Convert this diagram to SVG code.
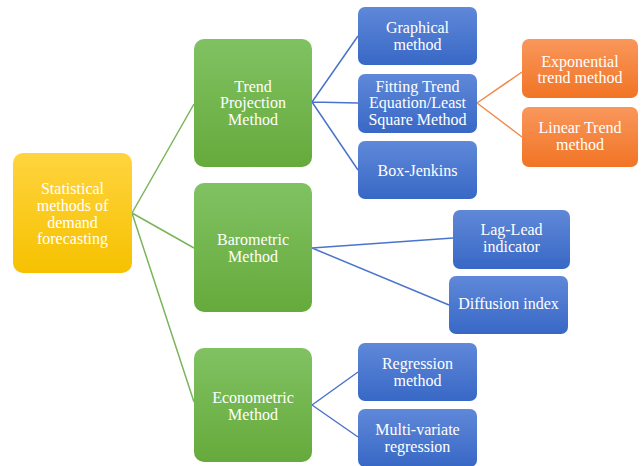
<svg xmlns="http://www.w3.org/2000/svg" width="642" height="466" viewBox="0 0 642 466">
<defs>
<linearGradient id="gy" x1="0" y1="0" x2="0" y2="1"><stop offset="0" stop-color="#FFD43F"/><stop offset="1" stop-color="#F6C100"/></linearGradient>
<linearGradient id="gg" x1="0" y1="0" x2="0" y2="1"><stop offset="0" stop-color="#80C262"/><stop offset="1" stop-color="#66AA3C"/></linearGradient>
<linearGradient id="gb" x1="0" y1="0" x2="0" y2="1"><stop offset="0" stop-color="#5F88D8"/><stop offset="1" stop-color="#3868C6"/></linearGradient>
<linearGradient id="go" x1="0" y1="0" x2="0" y2="1"><stop offset="0" stop-color="#F9975C"/><stop offset="1" stop-color="#F17424"/></linearGradient>
</defs>
<style>
text{font-family:"Liberation Serif","Times New Roman",serif;font-size:16px;fill:#fff;text-anchor:middle}
.y{fill:url(#gy)}.g{fill:url(#gg)}.b{fill:url(#gb)}.o{fill:url(#go)}
.cg{stroke:#79B55A;stroke-width:1.5;fill:none}
.cb{stroke:#4A74CC;stroke-width:1.5;fill:none}
.co{stroke:#F08A4B;stroke-width:1.5;fill:none}
</style>
<rect width="642" height="466" fill="#fff"/>
<g id="connectors">
<path class="cg" d="M132 213L194 104M132 213L194 248M132 213L194 402"/>
<path class="cb" d="M312 102L358 36M312 102L358 103M312 102L358 170"/>
<path class="co" d="M477 103L522 72M477 103L522 137"/>
<path class="cb" d="M312 248L453 238M312 248L449 305"/>
<path class="cb" d="M312 405L358 372M312 405L358 437"/>
</g>
<g id="root"><rect class="y" x="13" y="153" width="119" height="120" rx="10"/>
<text x="72.5" y="194">Statistical</text><text x="72.5" y="211">methods of</text><text x="72.5" y="228">demand</text><text x="72.5" y="244">forecasting</text></g>
<g id="trend"><rect class="g" x="194" y="39" width="118" height="128" rx="10"/>
<text x="253" y="92">Trend</text><text x="253" y="108">Projection</text><text x="253" y="125">Method</text></g>
<g id="barometric"><rect class="g" x="194" y="183" width="118" height="129" rx="10"/>
<text x="253" y="245">Barometric</text><text x="253" y="262">Method</text></g>
<g id="econometric"><rect class="g" x="194" y="348" width="118" height="114" rx="10"/>
<text x="253" y="403">Econometric</text><text x="253" y="420">Method</text></g>
<g id="graphical"><rect class="b" x="358" y="7" width="119" height="58" rx="7"/>
<text x="417.5" y="33">Graphical</text><text x="417.5" y="50">method</text></g>
<g id="fitting"><rect class="b" x="358" y="74" width="119" height="59" rx="7"/>
<text x="417.5" y="92">Fitting Trend</text><text x="417.5" y="108">Equation/Least</text><text x="417.5" y="125">Square Method</text></g>
<g id="boxjenkins"><rect class="b" x="358" y="141" width="119" height="58" rx="7"/>
<text x="417.5" y="176">Box-Jenkins</text></g>
<g id="exponential"><rect class="o" x="522" y="39" width="116" height="59" rx="7"/>
<text x="580" y="67">Exponential</text><text x="580" y="83">trend method</text></g>
<g id="linear"><rect class="o" x="522" y="107" width="116" height="60" rx="7"/>
<text x="580" y="133">Linear Trend</text><text x="580" y="150">method</text></g>
<g id="laglead"><rect class="b" x="453" y="210" width="117" height="59" rx="7"/>
<text x="511.5" y="235">Lag-Lead</text><text x="511.5" y="252">indicator</text></g>
<g id="diffusion"><rect class="b" x="449" y="276" width="119" height="58" rx="7"/>
<text x="508.5" y="309">Diffusion index</text></g>
<g id="regression"><rect class="b" x="358" y="343" width="119" height="58" rx="7"/>
<text x="417.5" y="369">Regression</text><text x="417.5" y="386">method</text></g>
<g id="multivariate"><rect class="b" x="358" y="409" width="119" height="58" rx="7"/>
<text x="417.5" y="435">Multi-variate</text><text x="417.5" y="452">regression</text></g>
</svg>
